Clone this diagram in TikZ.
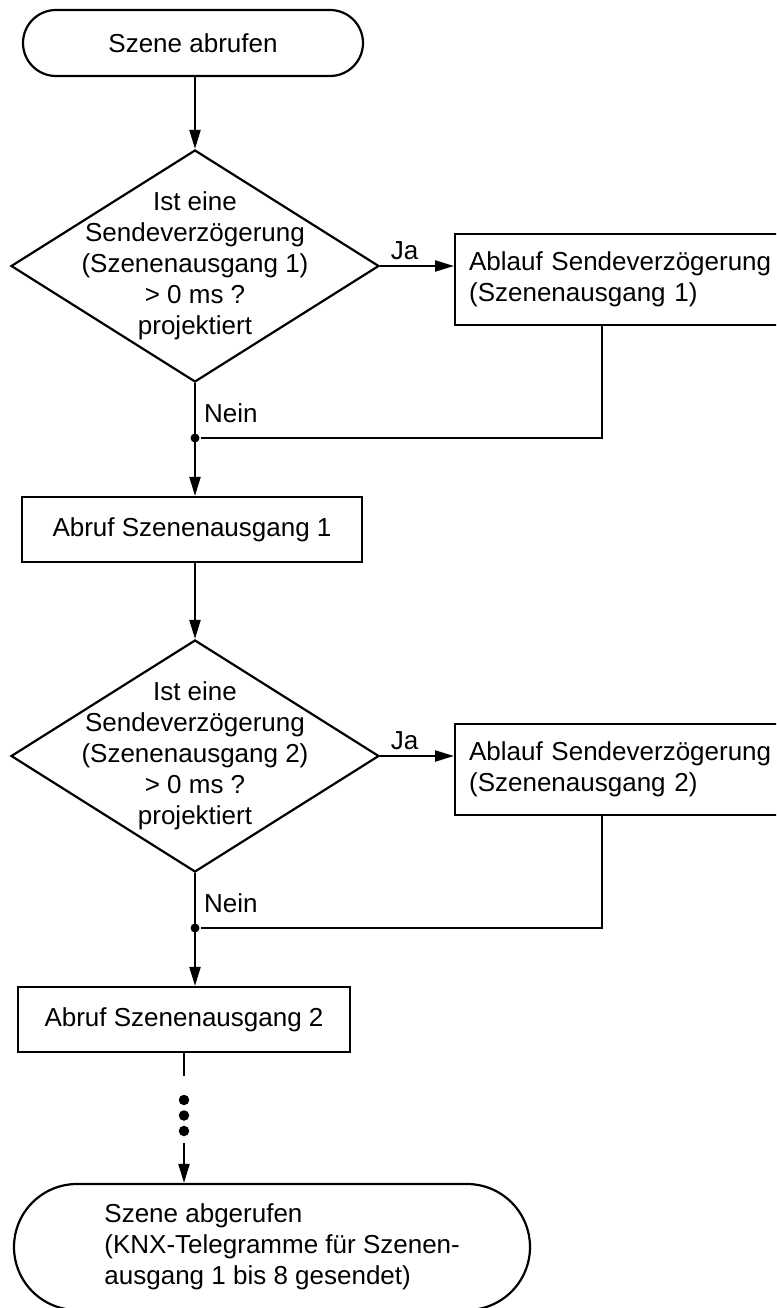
\documentclass[tikz,border=0pt]{standalone}
\usepackage{fontspec}
\setmainfont{Liberation Sans}
\usetikzlibrary{shapes.geometric,shapes.misc,arrows.meta}

\begin{document}
\begin{tikzpicture}[x=1pt, y=-1pt, line width=2.2pt,
    font=\fontsize{26}{31}\selectfont,
    >={Triangle[length=19pt,width=11pt]},
    terminal/.style={draw, rounded rectangle, inner sep=0pt},
    process/.style={draw, rectangle, inner sep=0pt},
    decision/.style={draw, diamond, inner sep=0pt, minimum width=368pt, minimum height=232pt},
    junction/.style={circle, fill, inner sep=0pt, minimum size=9pt},
    ellipsisdot/.style={circle, fill, inner sep=0pt, minimum size=10.5pt}]
    \clip (0,0) rectangle (776,1308);

    % Start
    \node[terminal, minimum width=340pt, minimum height=66pt] (start) at (193,43) {Szene abrufen};

    % Szenenausgang 1
    \node[decision] (frage1) at (195,266) {};
    \node[align=center] (frage1text) at (frage1) {Ist eine\\Sendeverzögerung\\(Szenenausgang 1)\\> 0 ms ?\\projektiert};
    \node[process, minimum height=91pt, text width=318pt, inner xsep=14pt, align=left, anchor=north west] (ablauf1) at (454,233) {Ablauf Sendeverzögerung\\(Szenenausgang 1)};
    \node[junction] (knoten1) at (195,438) {};
    \node[right, inner xsep=8pt] (nein1) at (195,413) {Nein};
    \node[process, minimum width=340pt, minimum height=65pt] (abruf1) at (192,529.5) {Abruf Szenenausgang 1};

    % Szenenausgang 2
    \node[decision] (frage2) at (195,756) {};
    \node[align=center] (frage2text) at (frage2) {Ist eine\\Sendeverzögerung\\(Szenenausgang 2)\\> 0 ms ?\\projektiert};
    \node[process, minimum height=91pt, text width=318pt, inner xsep=14pt, align=left, anchor=north west] (ablauf2) at (454,723) {Ablauf Sendeverzögerung\\(Szenenausgang 2)};
    \node[junction] (knoten2) at (195,928) {};
    \node[right, inner xsep=8pt] (nein2) at (195,903) {Nein};
    \node[process, minimum width=332pt, minimum height=65pt] (abruf2) at (184,1019.5) {Abruf Szenenausgang 2};

    % Ende
    \coordinate (lueckeoben) at (184,1076);
    \node[ellipsisdot] (punkt1) at (184,1100) {};
    \node[ellipsisdot] (punkt2) at (184,1115.5) {};
    \node[ellipsisdot] (punkt3) at (184,1131) {};
    \coordinate (lueckeunten) at (184,1143);
    \node[terminal, minimum width=516pt, minimum height=126pt] (ende) at (272,1247) {};
    \node[align=left, anchor=west] (endetext) at (100,1247) {Szene abgerufen\\(KNX-Telegramme für Szenen-\\ausgang 1 bis 8 gesendet)};

    % connectors
    \draw[->] (start.south -| frage1.north) -- (frage1.north);
    \draw[->] (frage1.east) -- (frage1.east -| ablauf1.west) node[pos=0.33, above, inner sep=5pt] (ja1) {Ja};
    \draw (ablauf1.south west) ++(148,0) |- (knoten1);
    \draw[->] (frage1.south) -- (frage1.south |- abruf1.north);
    \draw[->] (abruf1.south -| frage2.north) -- (frage2.north);
    \draw[->] (frage2.east) -- (frage2.east -| ablauf2.west) node[pos=0.33, above, inner sep=5pt] (ja2) {Ja};
    \draw (ablauf2.south west) ++(148,0) |- (knoten2);
    \draw[->] (frage2.south) -- (frage2.south |- abruf2.north);
    \draw (abruf2.south) -- (lueckeoben);
    \draw[->] (lueckeunten) -- (lueckeunten |- ende.north);
\end{tikzpicture}
\end{document}
